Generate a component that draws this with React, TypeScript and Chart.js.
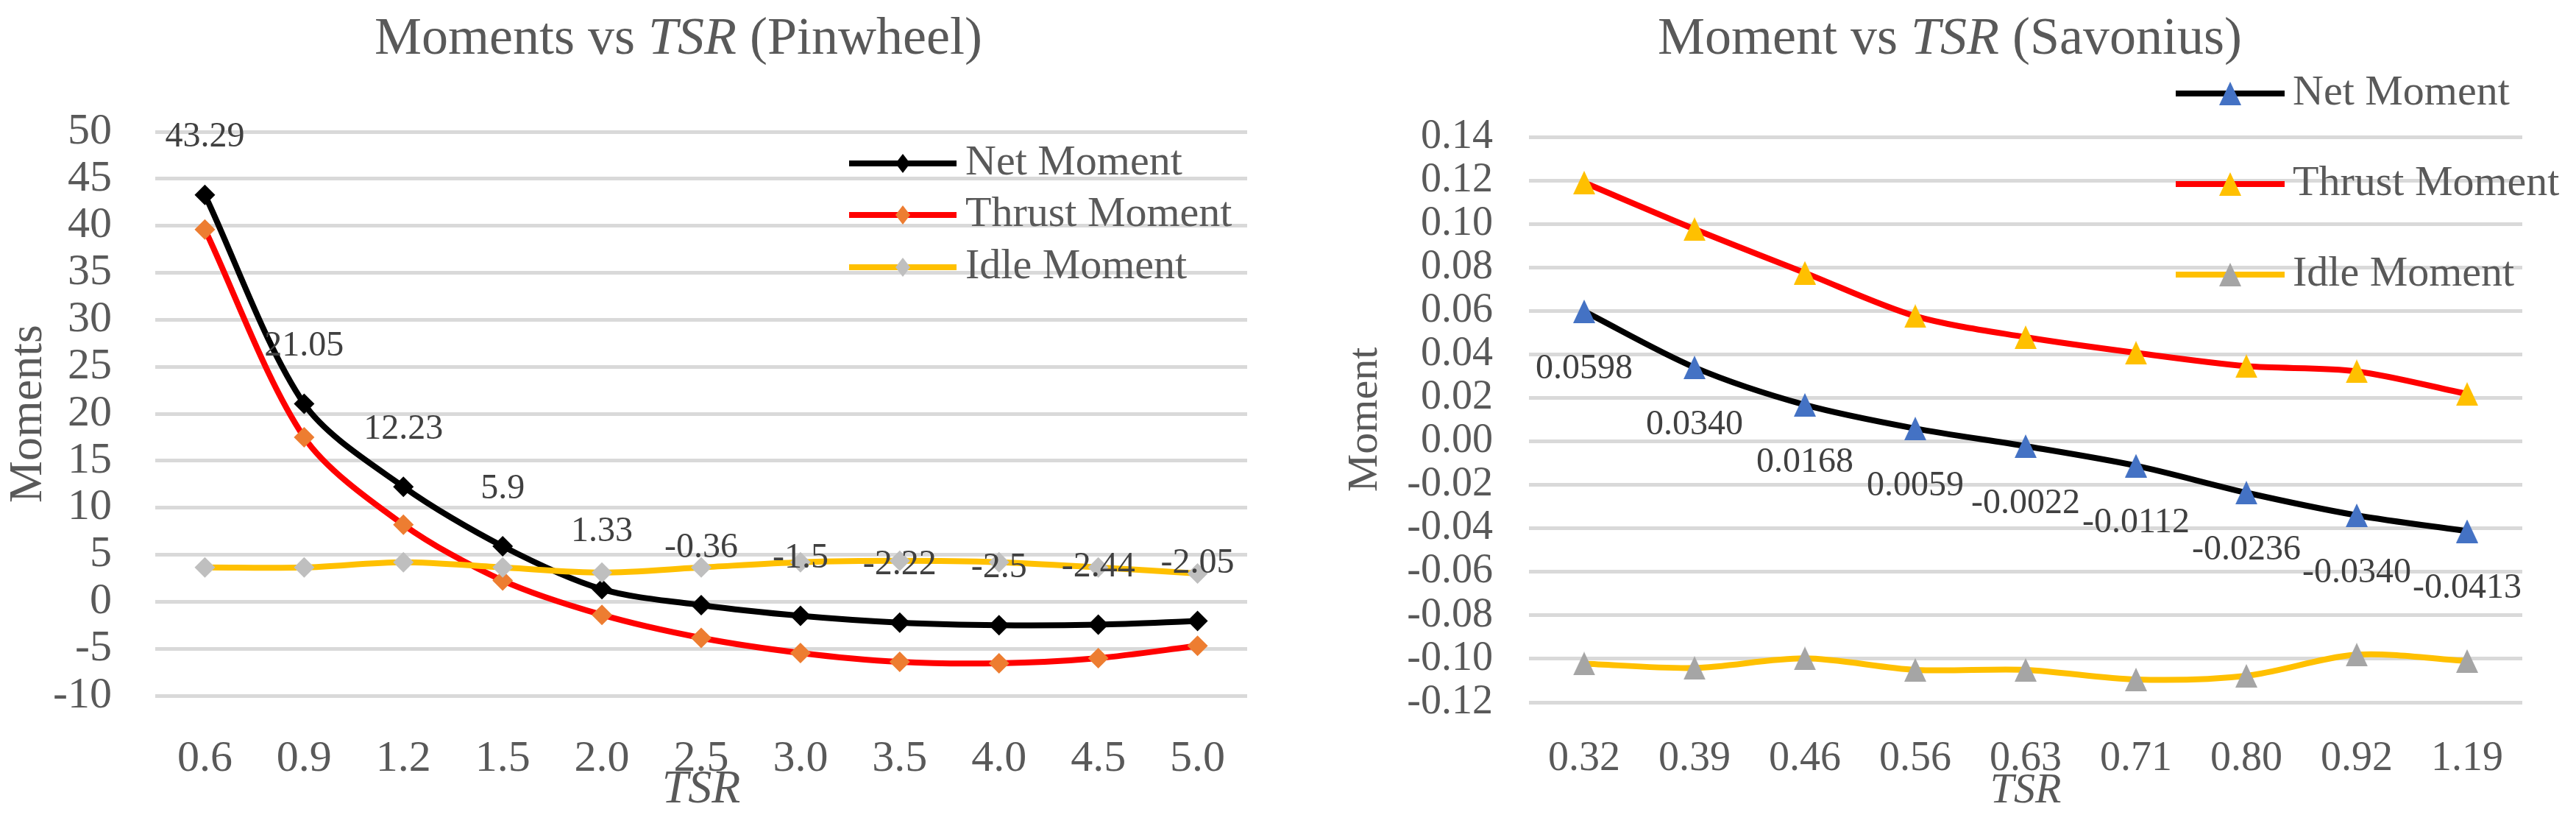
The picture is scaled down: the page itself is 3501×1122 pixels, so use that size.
import React, { useEffect, useRef } from 'react';
import { Chart, registerables } from 'chart.js';

Chart.register(...registerables);

// ---------- data ----------
const seriesNames = ['Net Moment', 'Thrust Moment', 'Idle Moment'];

const pinwheelTSR = ['0.6', '0.9', '1.2', '1.5', '2.0', '2.5', '3.0', '3.5', '4.0', '4.5', '5.0'];
const pinwheelNet = [43.29, 21.05, 12.23, 5.9, 1.33, -0.36, -1.5, -2.22, -2.5, -2.44, -2.05];
const pinwheelThrust = [39.6, 17.5, 8.2, 2.25, -1.4, -3.85, -5.45, -6.4, -6.55, -6.0, -4.7];
const pinwheelIdle = [3.65, 3.65, 4.2, 3.65, 3.1, 3.65, 4.2, 4.35, 4.2, 3.65, 3.0];

const savoniusTSR = ['0.32', '0.39', '0.46', '0.56', '0.63', '0.71', '0.80', '0.92', '1.19'];
const savoniusNet = [0.0598, 0.034, 0.0168, 0.0059, -0.0022, -0.0112, -0.0236, -0.034, -0.0413];
const savoniusThrust = [0.119, 0.0976, 0.0775, 0.0576, 0.0479, 0.0407, 0.0346, 0.0322, 0.0218];
const savoniusIdle = [-0.1022, -0.1042, -0.0998, -0.1051, -0.1051, -0.1095, -0.1078, -0.0981, -0.101];

const pinwheelTitle = [
  { text: 'Moments vs ', italic: false },
  { text: 'TSR', italic: true },
  { text: ' (Pinwheel)', italic: false },
];
const savoniusTitle = [
  { text: 'Moment vs ', italic: false },
  { text: 'TSR', italic: true },
  { text: ' (Savonius)', italic: false },
];

// ---------- styling ----------
const FONT = '"Liberation Serif", "Times New Roman", serif';
const TEXT = '#595959';
const LABEL = '#404040';
const GRID = '#D9D9D9';
const LINE_W = 8;

const pinLineColors = ['#000000', '#FF0000', '#FFC000'];
const pinMarkColors = ['#000000', '#ED7D31', '#BFBFBF'];
const savLineColors = ['#000000', '#FF0000', '#FFC000'];
const savMarkColors = ['#4472C4', '#FFC000', '#A5A5A5'];

function makeTriangle(color: string, w: number, h: number) {
  const c = document.createElement('canvas');
  c.width = w;
  c.height = h;
  const g = c.getContext('2d')!;
  g.fillStyle = color;
  g.beginPath();
  g.moveTo(w / 2, 0);
  g.lineTo(w, h);
  g.lineTo(0, h);
  g.closePath();
  g.fill();
  return c;
}

function titlePlugin(parts: { text: string; italic: boolean }[], cx: number, cy: number, size: number) {
  return {
    id: 'customTitle',
    afterDraw(chart: any) {
      const ctx = chart.ctx;
      ctx.save();
      ctx.fillStyle = TEXT;
      ctx.textBaseline = 'middle';
      ctx.textAlign = 'left';
      const widths = parts.map((p) => {
        ctx.font = `${p.italic ? 'italic ' : ''}${size}px ${FONT}`;
        return ctx.measureText(p.text).width;
      });
      const total = widths.reduce((a, b) => a + b, 0);
      let x = cx - total / 2;
      parts.forEach((p, i) => {
        ctx.font = `${p.italic ? 'italic ' : ''}${size}px ${FONT}`;
        ctx.fillText(p.text, x, cy);
        x += widths[i];
      });
      ctx.restore();
    },
  };
}

function labelPlugin(dsIndex: number, texts: string[], dy: number, size: number) {
  return {
    id: 'valueLabels',
    afterDatasetsDraw(chart: any) {
      const ctx = chart.ctx;
      const meta = chart.getDatasetMeta(dsIndex);
      ctx.save();
      ctx.fillStyle = LABEL;
      ctx.font = `${size}px ${FONT}`;
      ctx.textAlign = 'center';
      ctx.textBaseline = 'middle';
      meta.data.forEach((pt: any, i: number) => {
        ctx.fillText(texts[i], pt.x, pt.y + dy);
      });
      ctx.restore();
    },
  };
}

function legendPlugin(opts: {
  x1: number;
  x2: number;
  tx: number;
  rows: number[];
  lineColors: string[];
  drawMarker: (ctx: CanvasRenderingContext2D, i: number, x: number, y: number) => void;
  size: number;
}) {
  return {
    id: 'customLegend',
    afterDraw(chart: any) {
      const ctx: CanvasRenderingContext2D = chart.ctx;
      ctx.save();
      seriesNames.forEach((name, i) => {
        const y = opts.rows[i];
        ctx.strokeStyle = opts.lineColors[i];
        ctx.lineWidth = LINE_W;
        ctx.beginPath();
        ctx.moveTo(opts.x1, y);
        ctx.lineTo(opts.x2, y);
        ctx.stroke();
        opts.drawMarker(ctx, i, (opts.x1 + opts.x2) / 2, y);
        ctx.fillStyle = TEXT;
        ctx.font = `${opts.size}px ${FONT}`;
        ctx.textAlign = 'left';
        ctx.textBaseline = 'middle';
        ctx.fillText(name, opts.tx, y);
      });
      ctx.restore();
    },
  };
}

export default function App() {
  const leftRef = useRef<HTMLCanvasElement>(null);
  const rightRef = useRef<HTMLCanvasElement>(null);

  useEffect(() => {
    document.body.style.margin = '0';

    // ----- Pinwheel chart -----
    const pinSets = [pinwheelNet, pinwheelThrust, pinwheelIdle].map((d, i) => ({
      label: seriesNames[i],
      data: d,
      borderColor: pinLineColors[i],
      backgroundColor: pinMarkColors[i],
      pointBackgroundColor: pinMarkColors[i],
      pointBorderColor: pinMarkColors[i],
      pointBorderWidth: 0,
      pointStyle: 'rectRot',
      pointRadius: 14,
      borderWidth: LINE_W,
      tension: 0.3,
      order: 3 - i,
    }));

    const left = new Chart(leftRef.current!, {
      type: 'line',
      data: { labels: pinwheelTSR, datasets: pinSets as any },
      options: {
        responsive: false,
        animation: false,
        devicePixelRatio: 1,
        events: [],
        layout: { padding: { left: 0, right: 55, top: 179, bottom: 0 } },
        plugins: { legend: { display: false }, title: { display: false }, tooltip: { enabled: false } },
        scales: {
          x: {
            type: 'category',
            offset: true,
            grid: { display: false },
            border: { display: false },
            ticks: { color: TEXT, font: { family: FONT, size: 60, lineHeight: 1 }, padding: 48, maxRotation: 0, autoSkip: false },
            title: {
              display: true,
              text: 'TSR',
              color: TEXT,
              font: { family: FONT, size: 64, style: 'italic', lineHeight: 1 },
              padding: { top: 0, bottom: 17 },
            },
            afterFit: (s: any) => {
              s.height = 177;
            },
          },
          y: {
            min: -10,
            max: 50,
            ticks: { stepSize: 5, padding: 59, color: TEXT, font: { family: FONT, size: 60, lineHeight: 1 } },
            grid: { color: GRID, lineWidth: 5, drawTicks: false },
            border: { display: false },
            title: {
              display: true,
              text: 'Moments',
              color: TEXT,
              font: { family: FONT, size: 64, lineHeight: 1 },
              padding: { top: 7, bottom: 0 },
            },
            afterFit: (s: any) => {
              s.width = 211;
            },
          },
        },
      } as any,
      plugins: [
        labelPlugin(0, pinwheelNet.map((v) => String(v)), -78, 48),
        titlePlugin(pinwheelTitle, 922, 54, 72),
        legendPlugin({
          x1: 1154,
          x2: 1300,
          tx: 1312,
          rows: [222, 292, 363],
          lineColors: pinLineColors,
          size: 58,
          drawMarker: (ctx, i, x, y) => {
            ctx.fillStyle = pinMarkColors[i];
            ctx.beginPath();
            ctx.moveTo(x, y - 13);
            ctx.lineTo(x + 10, y);
            ctx.lineTo(x, y + 13);
            ctx.lineTo(x - 10, y);
            ctx.closePath();
            ctx.fill();
          },
        }),
      ],
    });

    // ----- Savonius chart -----
    const tris = savMarkColors.map((c) => makeTriangle(c, 30, 32));
    const savSets = [savoniusNet, savoniusThrust, savoniusIdle].map((d, i) => ({
      label: seriesNames[i],
      data: d,
      borderColor: savLineColors[i],
      backgroundColor: savMarkColors[i],
      pointBackgroundColor: savMarkColors[i],
      pointBorderColor: savMarkColors[i],
      pointBorderWidth: 0,
      pointStyle: tris[i],
      pointRadius: 16,
      borderWidth: LINE_W,
      tension: 0.3,
      order: 3 - i,
    }));

    const right = new Chart(rightRef.current!, {
      type: 'line',
      data: { labels: savoniusTSR, datasets: savSets as any },
      options: {
        responsive: false,
        animation: false,
        devicePixelRatio: 1,
        events: [],
        layout: { padding: { left: 0, right: 73, top: 186, bottom: 0 } },
        plugins: { legend: { display: false }, title: { display: false }, tooltip: { enabled: false } },
        scales: {
          x: {
            type: 'category',
            offset: true,
            grid: { display: false },
            border: { display: false },
            ticks: { color: TEXT, font: { family: FONT, size: 56, lineHeight: 1 }, padding: 41, maxRotation: 0, autoSkip: false },
            title: {
              display: true,
              text: 'TSR',
              color: TEXT,
              font: { family: FONT, size: 58, style: 'italic', lineHeight: 1 },
              padding: { top: 0, bottom: 18 },
            },
            afterFit: (s: any) => {
              s.height = 168;
            },
          },
          y: {
            min: -0.12,
            max: 0.14,
            ticks: {
              stepSize: 0.02,
              padding: 49,
              color: TEXT,
              font: { family: FONT, size: 56, lineHeight: 1 },
              callback: (v: any) => Number(v).toFixed(2),
            },
            grid: { color: GRID, lineWidth: 5, drawTicks: false },
            border: { display: false },
            title: {
              display: true,
              text: 'Moment',
              color: TEXT,
              font: { family: FONT, size: 58, lineHeight: 1 },
              padding: { top: 77, bottom: 0 },
            },
            afterFit: (s: any) => {
              s.width = 328;
            },
          },
        },
      } as any,
      plugins: [
        labelPlugin(0, savoniusNet.map((v) => v.toFixed(4)), 78, 48),
        titlePlugin(savoniusTitle, 900, 54, 72),
        legendPlugin({
          x1: 1207,
          x2: 1355,
          tx: 1366,
          rows: [127, 250, 373],
          lineColors: savLineColors,
          size: 58,
          drawMarker: (ctx, i, x, y) => {
            const t = tris[i];
            ctx.drawImage(t, x - t.width / 2, y - t.height / 2);
          },
        }),
      ],
    });

    return () => {
      left.destroy();
      right.destroy();
    };
  }, []);

  return (
    <div style={{ position: 'absolute', left: 0, top: 0, width: 3501, height: 1122, background: '#ffffff' }}>
      <canvas
        ref={leftRef}
        width={1750}
        height={1122}
        style={{ position: 'absolute', left: 0, top: 0, width: 1750, height: 1122, display: 'block' }}
      />
      <canvas
        ref={rightRef}
        width={1751}
        height={1122}
        style={{ position: 'absolute', left: 1750, top: 0, width: 1751, height: 1122, display: 'block' }}
      />
    </div>
  );
}
